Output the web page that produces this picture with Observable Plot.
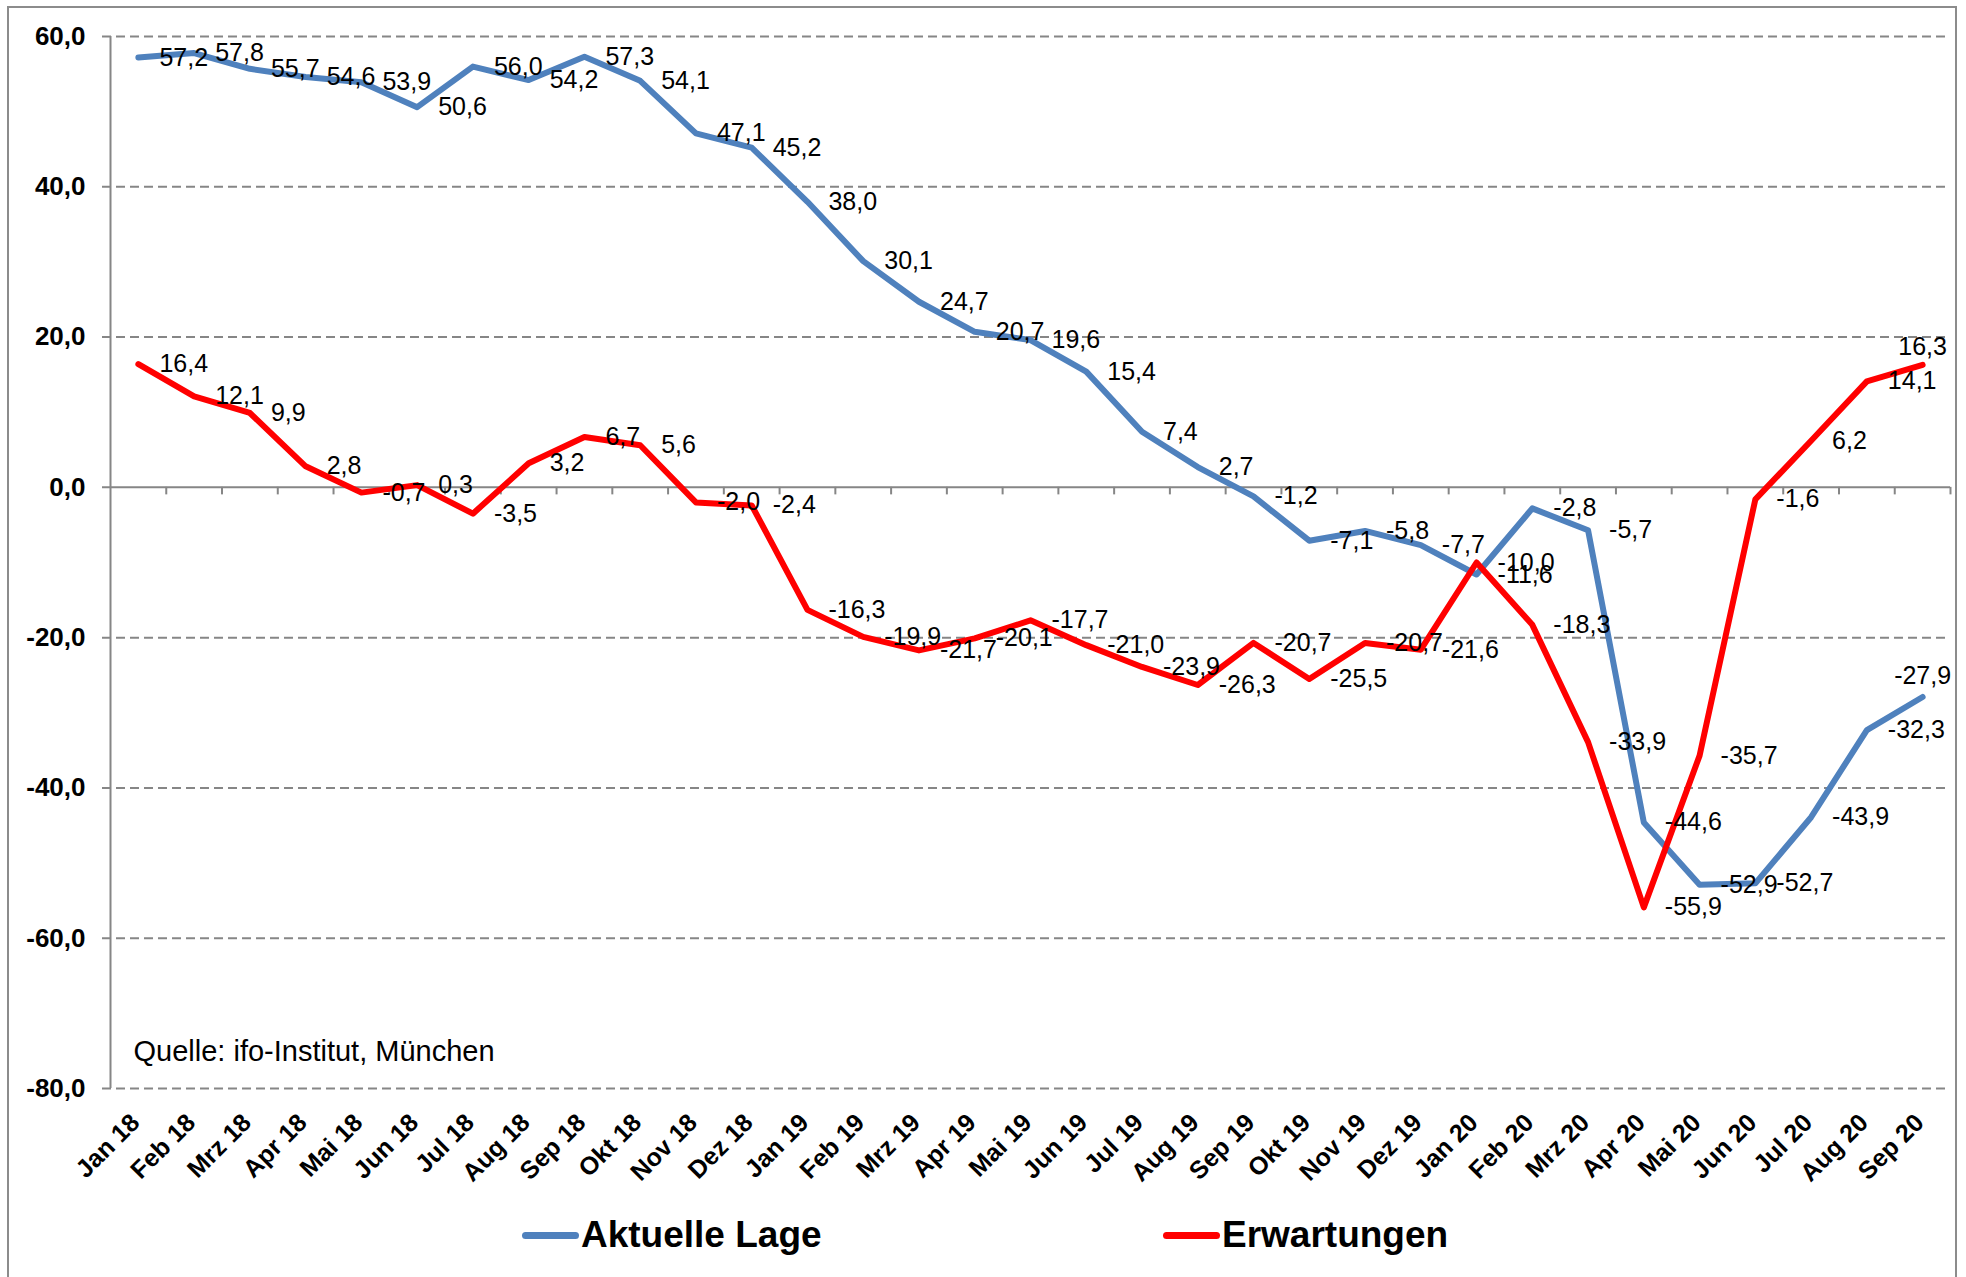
<!DOCTYPE html>
<html>
<head>
<meta charset="utf-8">
<script src="https://cdn.jsdelivr.net/npm/d3@7"></script>
<script src="https://cdn.jsdelivr.net/npm/@observablehq/plot@0.6"></script>
<style>
  html, body { margin: 0; padding: 0; background: #fff; overflow: hidden; width: 1966px; height: 1277px; }
  #frame { position: absolute; left: 7px; top: 6px; width: 1950px; height: 1300px; border: 2px solid #8c8c8c; box-sizing: border-box; }
  #chart { position: absolute; left: 0; top: 0; }
  .legend-item { position: absolute; top: 1217px; display: flex; align-items: center; height: 36px;
    font-family: "Liberation Sans", Arial, sans-serif; font-weight: bold; font-size: 37px; line-height: 36px; color: #000; }
  .swatch { width: 57px; height: 7px; border-radius: 4px; margin-right: 2px; }
  #chart svg [aria-label="y-axis tick label"] text, #chart svg [aria-label="x-axis tick label"] text { font-weight: bold; }
</style>
</head>
<body>
<div id="frame"></div>
<div id="chart"></div>
<div class="legend-item" style="left:522px;"><div class="swatch" style="background:#4F81BD"></div><span>Aktuelle Lage</span></div>
<div class="legend-item" style="left:1163px;"><div class="swatch" style="background:#FF0000"></div><span>Erwartungen</span></div>
<script>
const months = ["Jan 18","Feb 18","Mrz 18","Apr 18","Mai 18","Jun 18","Jul 18","Aug 18","Sep 18","Okt 18","Nov 18","Dez 18",
  "Jan 19","Feb 19","Mrz 19","Apr 19","Mai 19","Jun 19","Jul 19","Aug 19","Sep 19","Okt 19","Nov 19","Dez 19",
  "Jan 20","Feb 20","Mrz 20","Apr 20","Mai 20","Jun 20","Jul 20","Aug 20","Sep 20"];
const aktuelleLage = [57.2,57.8,55.7,54.6,53.9,50.6,56.0,54.2,57.3,54.1,47.1,45.2,
  38.0,30.1,24.7,20.7,19.6,15.4,7.4,2.7,-1.2,-7.1,-5.8,-7.7,
  -11.6,-2.8,-5.7,-44.6,-52.9,-52.7,-43.9,-32.3,-27.9];
const erwartungen = [16.4,12.1,9.9,2.8,-0.7,0.3,-3.5,3.2,6.7,5.6,-2.0,-2.4,
  -16.3,-19.9,-21.7,-20.1,-17.7,-21.0,-23.9,-26.3,-20.7,-25.5,-20.7,-21.6,
  -10.0,-18.3,-33.9,-55.9,-35.7,-1.6,6.2,14.1,16.3];
const yTicks = [-80,-60,-40,-20,0,20,40,60];

const fmt = v => v.toFixed(1).replace(".", ",");
const rows = months.map((m, i) => ({i, month: m, lage: aktuelleLage[i], erw: erwartungen[i]}));
const last = rows.length - 1;
const boundaries = d3.range(0, rows.length).map(i => i + 0.5);
const gridVals = yTicks.filter(v => v !== 0);
const gray = "#868686";
const font = "Liberation Sans, Arial, sans-serif";

const labelOpts = {fontSize: 25, fill: "#000", fontFamily: font};

const plot = Plot.plot({
  width: 1966,
  height: 1188,
  marginLeft: 110,
  marginRight: 16,
  marginTop: 36,
  marginBottom: 100,
  style: {fontFamily: font, background: "transparent", overflow: "visible"},
  x: {domain: [-0.5, rows.length - 0.5], axis: null},
  y: {domain: [-80, 60], axis: null},
  marks: [
    Plot.ruleY(gridVals, {stroke: gray, strokeWidth: 2, strokeDasharray: "9,5", insetLeft: -8}),
    Plot.ruleY([0], {stroke: gray, strokeWidth: 2, insetLeft: -8}),
    Plot.ruleX(boundaries, {x: d => d, y1: 0, y2: -1, stroke: gray, strokeWidth: 2}),
    Plot.ruleX([-0.5], {stroke: gray, strokeWidth: 2}),
    Plot.axisY({ticks: yTicks, tickSize: 0, tickPadding: 25, tickFormat: fmt, fontSize: 26, fontWeight: "bold", fill: "#000", label: null}),
    Plot.axisX({ticks: rows.map(d => d.i), tickSize: 0, tickPadding: 30, tickRotate: -45, tickFormat: i => months[i], fontSize: 25, fontWeight: "bold", fill: "#000", dx: -3, label: null}),
    Plot.line(rows, {x: "i", y: "lage", stroke: "#4F81BD", strokeWidth: 6, strokeLinejoin: "round", strokeLinecap: "round"}),
    Plot.line(rows, {x: "i", y: "erw", stroke: "#FF0000", strokeWidth: 6, strokeLinejoin: "round", strokeLinecap: "round"}),
    Plot.text(rows.filter(d => d.i !== last), {x: "i", y: "lage", text: d => fmt(d.lage), textAnchor: "start", dx: 21, ...labelOpts}),
    Plot.text(rows.filter(d => d.i !== last), {x: "i", y: "erw", text: d => fmt(d.erw), textAnchor: "start", dx: 21, ...labelOpts}),
    Plot.text(rows.filter(d => d.i === last), {x: "i", y: "lage", text: d => fmt(d.lage), textAnchor: "middle", dy: -21, ...labelOpts}),
    Plot.text(rows.filter(d => d.i === last), {x: "i", y: "erw", text: d => fmt(d.erw), textAnchor: "middle", dy: -18, ...labelOpts}),
    Plot.text(["Quelle: ifo-Institut, München"], {frameAnchor: "bottom-left", textAnchor: "start", dx: 23, dy: -28, fontSize: 29, fill: "#000", fontFamily: font})
  ]
});
document.getElementById("chart").appendChild(plot);
</script>
</body>
</html>
